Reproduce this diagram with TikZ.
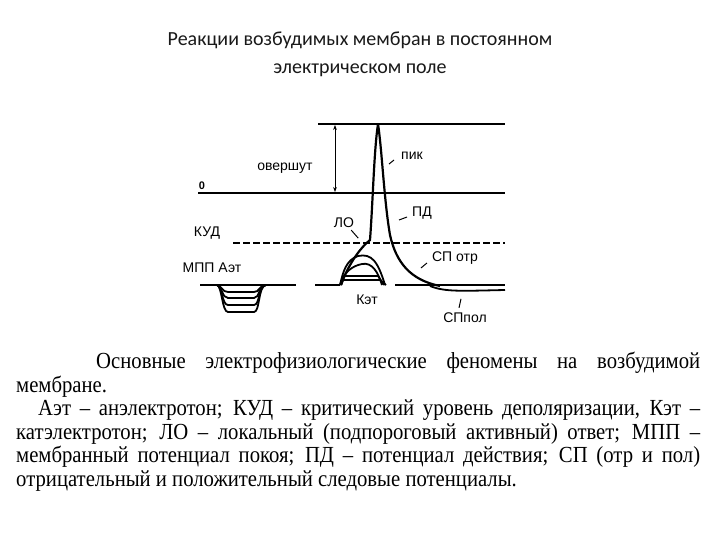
\documentclass[tikz,border=0pt]{standalone}
\usepackage{fontspec}
\setmainfont{Liberation Serif}
\newfontfamily\lsans{Liberation Sans}
\newfontfamily\calib{Carlito}
\newfontfamily\capfont[FakeStretch=0.9]{Liberation Serif}
\usetikzlibrary{arrows.meta}
\begin{document}
\begin{tikzpicture}[x=1pt,y=-1pt,
 lbl/.style={font=\lsans\fontsize{14}{16}\selectfont,inner sep=1pt},
 trace/.style={line width=1.8pt,line join=round},
 lev/.style={line width=1.6pt}]
\useasboundingbox (0,0) rectangle (720,540);
\fill[white] (0,0) rectangle (720,540);
\node[font=\calib\fontsize{20}{28}\selectfont,color=black!90,align=center] (title) at (360,54) {Реакции возбудимых мембран в постоянном\\электрическом поле};
% levels
\coordinate (t1) at (318,124); \coordinate (t2) at (505,124);
\draw[lev] (t1) -- (t2);
\coordinate (z1) at (198,193); \coordinate (z2) at (505,193);
\draw[lev] (z1) -- (z2);
\node[font=\lsans\bfseries\fontsize{11}{12}\selectfont] (zero) at (202,186) {0};
\coordinate (k1) at (233,243); \coordinate (k2) at (505,243);
\draw[line width=1.4pt,dash pattern=on 7pt off 3pt] (k1) -- (k2);
\coordinate (l1) at (200,285); \coordinate (l2) at (296,285);
\draw[lev] (l1) -- (l2);
\coordinate (a1) at (335,125); \coordinate (a2) at (335,192);
\draw[line width=0.9pt,{Stealth[length=5pt]}-{Stealth[length=5pt]}] (a1) -- (a2);
% anelectrotonus
\foreach \d in {7,13,20,27}{
 \draw[trace] (217,285) .. controls (222,286) and (222,285+\d) .. (228,285+\d) -- (254,285+\d) .. controls (260,285+\d) and (258,286) .. (266,285);
}
% resting right + SP pol
\draw[lev] (315,285) -- (340,285);
\draw[lev] (395,285) -- (505,285);
\draw[trace] (430,286) .. controls (445,292) and (460,291) .. (505,290);
% catelectrotonus subthreshold
\draw[trace] (340,285) .. controls (343,272) and (346,260) .. (358,256) .. controls (372,253) and (378,262) .. (385,285);
\draw[trace] (340,285) .. controls (344,272) and (352,266) .. (362,264) .. controls (372,262) and (378,272) .. (382,285);
\draw[trace] (341,285) -- (344,276) -- (378,276) -- (384,285);
\draw[trace] (341,285) -- (343,280) -- (380,280) -- (386,285);
% action potential
\draw[line width=2.2pt,line join=round] (341,285) .. controls (348,265) and (360,248) .. (370,240)
  .. controls (373,200) and (374,150) .. (378,124)
  .. controls (382,150) and (384,200) .. (390,235)
  .. controls (396,262) and (410,280) .. (440,286);
% labels
\node[lbl] (ov) at (285,168) {овершут};
\node[lbl] (pik) at (412,156) {пик};
\node[lbl] (pd) at (422,213) {ПД};
\node[lbl] (lo) at (344,223) {ЛО};
\node[lbl] (kud) at (207,233) {КУД};
\node[lbl] (mpp) at (212,268) {МПП Аэт};
\node[lbl] (spo) at (455,258) {СП отр};
\node[lbl] (ket) at (367,300) {Кэт};
\node[lbl] (spp) at (465,318) {СПпол};
\draw[line width=1pt] (pik.west) ++(-6,4) -- ++(-5,4);
\draw[line width=1pt] (pd.west) ++(-4,4) -- ++(-8,3);
\draw[line width=1pt] (lo.south east) ++(-4,1) -- ++(7,8);
\draw[line width=1pt] (spo.west) ++(-4,5) -- ++(-6,5);
\draw[line width=1pt] (spp.north) ++(-6,-4) -- ++(2,-9);
% caption
\node[font=\capfont\fontsize{23}{23.5}\selectfont,text width=684pt,align=justify,inner sep=0pt,anchor=north west] (cap) at (16,352)
{\hspace*{80pt}Основные электрофизиологические феномены на возбудимой\linebreak мембране.\par
\hspace*{22pt}Аэт~– анэлектротон; КУД – критический уровень деполяризации, Кэт –\linebreak катэлектротон; ЛО – локальный (подпороговый активный) ответ; МПП –\linebreak мембранный потенциал покоя; ПД – потенциал действия; СП (отр и пол)\linebreak отрицательный и положительный следовые потенциалы.\par};
\end{tikzpicture}
\end{document}
